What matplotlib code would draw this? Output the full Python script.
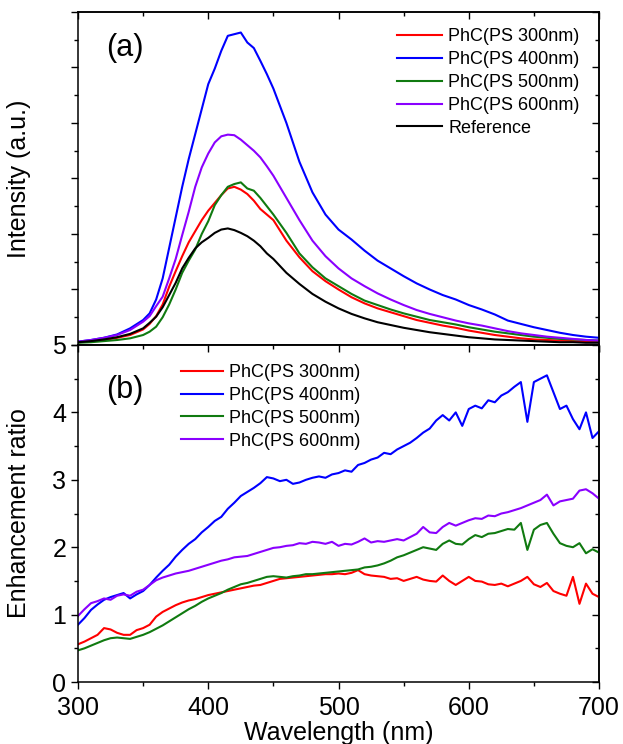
import numpy as np
import matplotlib
matplotlib.use("Agg")
import matplotlib.pyplot as plt
from matplotlib.ticker import MultipleLocator, NullFormatter

plt.rcParams['font.family'] = ['Liberation Sans', 'DejaVu Sans']

# ---- panel (a): PL intensity spectra (a.u.) ----
wl_a = [300, 310, 320, 330, 340, 350, 355, 360, 365, 370, 375, 380, 385, 390, 395,
        400, 405, 410, 415, 420, 425, 430, 435, 440, 445, 450, 460, 470, 480, 490,
        500, 510, 520, 530, 540, 550, 560, 570, 580, 590, 600, 610, 620, 630, 640,
        650, 660, 670, 680, 690, 700]
int_300 = [0.05, 0.07, 0.09, 0.13, 0.18, 0.28, 0.38, 0.52, 0.73, 1.05, 1.33, 1.6, 1.85, 2.05, 2.25,
           2.42, 2.56, 2.7, 2.82, 2.85, 2.8, 2.72, 2.6, 2.45, 2.35, 2.25, 1.88, 1.58, 1.33, 1.15,
           1.0, 0.86, 0.75, 0.66, 0.59, 0.52, 0.45, 0.4, 0.35, 0.31, 0.26, 0.22, 0.18, 0.15, 0.12,
           0.1, 0.09, 0.08, 0.07, 0.06, 0.06]
int_400 = [0.06, 0.09, 0.13, 0.19, 0.30, 0.45, 0.57, 0.82, 1.2, 1.75, 2.3, 2.85, 3.35, 3.8, 4.25,
           4.7, 4.98, 5.3, 5.57, 5.6, 5.63, 5.45, 5.35, 5.12, 4.88, 4.62, 4.0, 3.3, 2.75, 2.35,
           2.08, 1.9, 1.7, 1.52, 1.38, 1.24, 1.11, 1.0, 0.9, 0.82, 0.72, 0.64, 0.55, 0.44, 0.38,
           0.32, 0.27, 0.22, 0.18, 0.15, 0.13]
int_500 = [0.04, 0.05, 0.07, 0.09, 0.12, 0.18, 0.24, 0.33, 0.5, 0.73, 1.0, 1.3, 1.52, 1.72, 2.0,
           2.23, 2.52, 2.7, 2.85, 2.9, 2.93, 2.82, 2.78, 2.65, 2.5, 2.35, 2.02, 1.65, 1.4, 1.2,
           1.06, 0.92, 0.8, 0.72, 0.64, 0.57, 0.51, 0.45, 0.41, 0.37, 0.32, 0.28, 0.24, 0.21, 0.18,
           0.15, 0.13, 0.11, 0.1, 0.09, 0.08]
int_600 = [0.06, 0.09, 0.13, 0.18, 0.27, 0.42, 0.52, 0.7, 0.87, 1.2, 1.55, 1.98, 2.4, 2.85, 3.2,
           3.45, 3.65, 3.76, 3.79, 3.78, 3.7, 3.6, 3.5, 3.38, 3.22, 3.05, 2.65, 2.25, 1.88, 1.6,
           1.38, 1.2, 1.06, 0.93, 0.82, 0.72, 0.63, 0.56, 0.5, 0.44, 0.39, 0.35, 0.3, 0.25, 0.21,
           0.18, 0.15, 0.13, 0.11, 0.09, 0.08]
int_ref = [0.05, 0.07, 0.1, 0.14, 0.2, 0.3, 0.4, 0.51, 0.68, 0.9, 1.12, 1.38, 1.57, 1.74, 1.85,
           1.93, 2.02, 2.08, 2.1, 2.07, 2.02, 1.96, 1.88, 1.78, 1.65, 1.55, 1.3, 1.1, 0.92, 0.78,
           0.66, 0.56, 0.48, 0.41, 0.36, 0.31, 0.27, 0.23, 0.2, 0.17, 0.14, 0.12, 0.1, 0.09, 0.08,
           0.07, 0.06, 0.05, 0.05, 0.04, 0.04]

# ---- panel (b): enhancement ratio, 5 nm steps from 300 to 700 ----
wl_b = list(range(300, 701, 5))
ratio_300 = [0.56, 0.6, 0.65, 0.7, 0.8, 0.78, 0.73, 0.7, 0.7, 0.77, 0.8, 0.85, 0.97, 1.04, 1.09, 1.14,
             1.18, 1.21, 1.23, 1.26, 1.29, 1.31, 1.33, 1.35, 1.37, 1.39, 1.41, 1.43, 1.44, 1.47, 1.5,
             1.53, 1.54, 1.55, 1.56, 1.57, 1.58, 1.59, 1.6, 1.6, 1.61, 1.6, 1.62, 1.66, 1.6, 1.58,
             1.57, 1.56, 1.53, 1.54, 1.5, 1.53, 1.56, 1.52, 1.5, 1.49, 1.58, 1.5, 1.44, 1.5, 1.56,
             1.5, 1.49, 1.45, 1.44, 1.46, 1.42, 1.46, 1.5, 1.56, 1.45, 1.41, 1.47, 1.35, 1.31, 1.28,
             1.56, 1.16, 1.46, 1.31, 1.26]
ratio_400 = [0.85, 0.95, 1.07, 1.15, 1.22, 1.26, 1.29, 1.32, 1.24, 1.3, 1.35, 1.44, 1.55, 1.65, 1.74, 1.86,
             1.96, 2.05, 2.12, 2.22, 2.3, 2.39, 2.45, 2.57, 2.66, 2.76, 2.82, 2.88, 2.95, 3.04, 3.02,
             2.98, 3.0, 2.94, 2.96, 3.0, 3.03, 3.05, 3.03, 3.08, 3.1, 3.14, 3.12, 3.22, 3.25, 3.3,
             3.33, 3.4, 3.38, 3.45, 3.5, 3.55, 3.62, 3.7, 3.76, 3.88, 3.96, 3.88, 4.0, 3.8, 4.05,
             4.1, 4.06, 4.18, 4.15, 4.25, 4.3, 4.38, 4.45, 3.86, 4.45, 4.5, 4.55, 4.3, 4.05, 4.1,
             3.9, 3.75, 4.0, 3.62, 3.72]
ratio_500 = [0.47, 0.5, 0.54, 0.58, 0.62, 0.65, 0.66, 0.65, 0.64, 0.67, 0.7, 0.74, 0.79, 0.84, 0.9, 0.96,
             1.02, 1.08, 1.13, 1.19, 1.24, 1.28, 1.32, 1.37, 1.41, 1.45, 1.47, 1.5, 1.53, 1.56, 1.57,
             1.56, 1.55, 1.57, 1.58, 1.6, 1.6, 1.61, 1.62, 1.63, 1.64, 1.65, 1.66, 1.67, 1.7, 1.71,
             1.73, 1.76, 1.8, 1.85, 1.88, 1.92, 1.96, 2.0, 1.98, 1.96, 2.05, 2.1, 2.05, 2.04, 2.12,
             2.18, 2.15, 2.2, 2.21, 2.24, 2.27, 2.26, 2.36, 1.96, 2.26, 2.33, 2.36, 2.2, 2.06, 2.02,
             2.0, 2.06, 1.91, 1.97, 1.92]
ratio_600 = [0.98, 1.08, 1.17, 1.2, 1.24, 1.22, 1.28, 1.3, 1.28, 1.34, 1.37, 1.44, 1.51, 1.55, 1.58, 1.61,
             1.63, 1.65, 1.68, 1.71, 1.74, 1.77, 1.8, 1.82, 1.85, 1.86, 1.87, 1.9, 1.93, 1.96, 1.99,
             2.0, 2.02, 2.03, 2.06, 2.05, 2.08, 2.07, 2.05, 2.08, 2.02, 2.05, 2.04, 2.08, 2.13, 2.07,
             2.09, 2.08, 2.1, 2.12, 2.1, 2.15, 2.2, 2.3, 2.22, 2.21, 2.3, 2.36, 2.32, 2.36, 2.4,
             2.43, 2.42, 2.47, 2.46, 2.5, 2.52, 2.55, 2.58, 2.62, 2.66, 2.7, 2.78, 2.62, 2.68, 2.7,
             2.72, 2.84, 2.86, 2.8, 2.72]

labels = ["PhC(PS 300nm)", "PhC(PS 400nm)", "PhC(PS 500nm)", "PhC(PS 600nm)"]
colors = ["#ff0000", "#0000ff", "#107a10", "#8a00ff"]

fig = plt.figure(figsize=(6.23, 7.44), dpi=100)
ax_a = fig.add_axes([0.1252, 0.5363, 0.8363, 0.4476])
ax_b = fig.add_axes([0.1252, 0.0833, 0.8363, 0.4530])

for y, c, lab in zip([int_300, int_400, int_500, int_600], colors, labels):
    ax_a.plot(wl_a, y, color=c, lw=1.5, label=lab)
ax_a.plot(wl_a, int_ref, color="black", lw=1.5, label="Reference")

for y, c, lab in zip([ratio_300, ratio_400, ratio_500, ratio_600], colors, labels):
    ax_b.plot(wl_b, y, color=c, lw=1.5, label=lab)

ax_a.set_xlim(300, 700); ax_a.set_ylim(0, 6)
ax_b.set_xlim(300, 700); ax_b.set_ylim(0, 5)

for ax in (ax_a, ax_b):
    ax.xaxis.set_major_locator(MultipleLocator(100))
    ax.xaxis.set_minor_locator(MultipleLocator(50))
    ax.yaxis.set_major_locator(MultipleLocator(1))
    ax.yaxis.set_minor_locator(MultipleLocator(0.5))
    # left / bottom: outward ticks
    ax.tick_params(which="both", direction="out", width=1.0, labelsize=18)
    ax.tick_params(axis="x", which="both", pad=5)
    ax.tick_params(which="major", length=5)
    ax.tick_params(which="minor", length=3)
    for s in ax.spines.values():
        s.set_linewidth(1.1)
    # top / right: mirrored ticks pointing inward
    top = ax.secondary_xaxis("top")
    top.xaxis.set_major_locator(MultipleLocator(100))
    top.xaxis.set_minor_locator(MultipleLocator(50))
    top.tick_params(which="both", direction="in", labeltop=False, width=1.0)
    top.tick_params(which="major", length=5)
    top.tick_params(which="minor", length=3)
    right = ax.secondary_yaxis("right")
    right.yaxis.set_major_locator(MultipleLocator(1))
    right.yaxis.set_minor_locator(MultipleLocator(0.5))
    right.tick_params(which="both", direction="in", labelright=False, width=1.0)
    right.tick_params(which="major", length=5)
    right.tick_params(which="minor", length=3)
    right.spines["right"].set_linewidth(1.1)
    top.spines["top"].set_linewidth(1.1)

ax_a.tick_params(axis="x", which="both", labelbottom=False)
ax_a.yaxis.set_major_formatter(NullFormatter())

ax_a.set_ylabel("Intensity (a.u.)", fontsize=18)
ax_b.set_ylabel("Enhancement ratio", fontsize=18)
ax_a.yaxis.set_label_coords(-0.09, 0.5)
ax_b.yaxis.set_label_coords(-0.09, 0.5)
ax_b.set_xlabel("Wavelength (nm)", fontsize=18, labelpad=1)

ax_a.text(0.09, 0.892, "(a)", transform=ax_a.transAxes, fontsize=22, ha="center", va="center")
ax_b.text(0.09, 0.866, "(b)", transform=ax_b.transAxes, fontsize=22, ha="center", va="center")

ax_a.legend(loc="upper left", bbox_to_anchor=(0.612, 0.952), frameon=False, fontsize=13,
            handlelength=2.5, handletextpad=0.35, labelspacing=0.33, borderpad=0, borderaxespad=0)
ax_b.legend(loc="upper left", bbox_to_anchor=(0.198, 0.944), frameon=False, fontsize=13,
            handlelength=2.3, handletextpad=0.35, labelspacing=0.33, borderpad=0, borderaxespad=0)

fig.savefig("out.png", dpi=100)
